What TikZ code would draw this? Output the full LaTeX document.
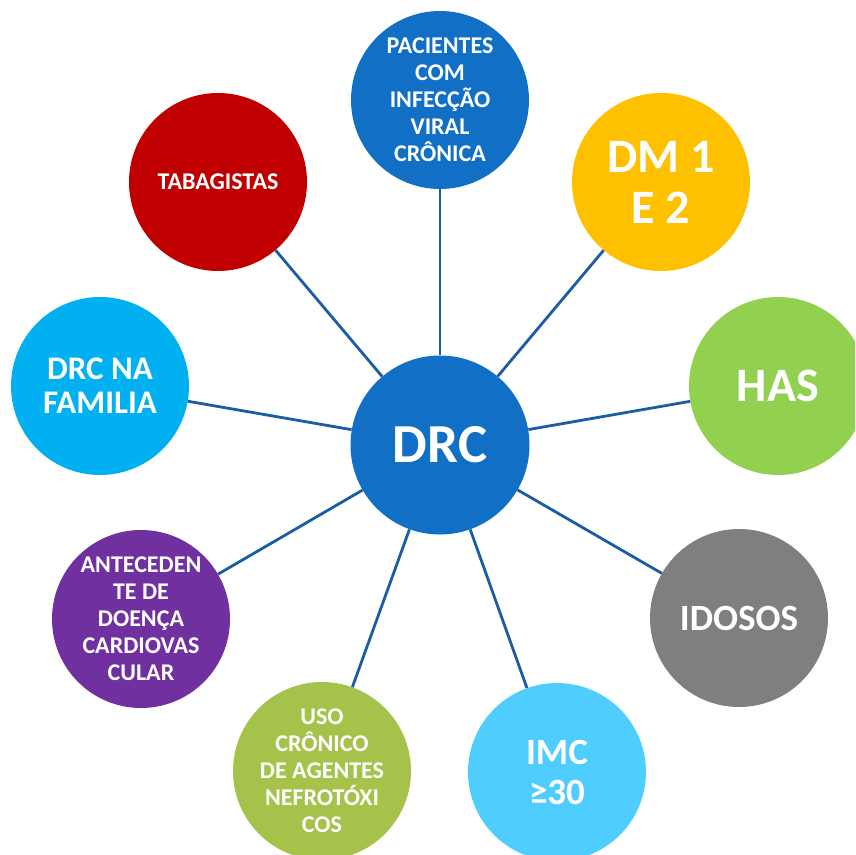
\documentclass[tikz,border=0pt]{standalone}
\usepackage{fontspec}
\setmainfont{Carlito}
\definecolor{cdrc}{HTML}{1170C6}
\definecolor{cpac}{HTML}{1170C6}
\definecolor{cdm}{HTML}{FFC000}
\definecolor{chas}{HTML}{92D050}
\definecolor{cido}{HTML}{7F7F7F}
\definecolor{cimc}{HTML}{50CDFF}
\definecolor{cuso}{HTML}{A5C34B}
\definecolor{cant}{HTML}{7030A0}
\definecolor{cfam}{HTML}{00B0F0}
\definecolor{ctab}{HTML}{C00000}
\definecolor{cline}{HTML}{1B5DA2}
\begin{document}
\begin{tikzpicture}[x=1pt,y=-1pt,
  bubble/.style={circle,minimum size=178pt,inner sep=0pt,text=white,align=center,font=\bfseries},
  fsmall/.style={font=\fontsize{24}{27}\selectfont\bfseries},
  fmid/.style={font=\fontsize{33}{34}\selectfont\bfseries},
  fbig/.style={font=\fontsize{37}{40}\selectfont\bfseries},
  fhuge/.style={font=\fontsize{48}{51}\selectfont\bfseries},
  link/.style={draw=cline,line width=2.8pt}]
\useasboundingbox (0,0) rectangle (855,855);
\begin{scope}
\clip (0,0) rectangle (855,855);
\node[bubble,fill=cdrc,minimum size=179pt,font=\fontsize{55}{58}\selectfont\bfseries] (drc) at (440,445) {DRC};
\node[bubble,fill=cpac,fsmall] (pac) at (440,100) {PACIENTES\\COM\\INFECÇÃO\\VIRAL\\CRÔNICA};
\node[bubble,fill=cdm,fhuge] (dm) at (661,182) {DM 1\\E 2};
\node[bubble,fill=chas,fhuge] (has) at (778,386) {HAS};
\node[bubble,fill=cido,fbig] (ido) at (739,618) {IDOSOS};
\node[bubble,fill=cimc,fbig] (imc) at (557,772) {IMC\\≥30};
\node[bubble,fill=cuso,fsmall] (uso) at (322,771) {USO\\CRÔNICO\\DE AGENTES\\NEFROTÓXI\\COS};
\node[bubble,fill=cant,fsmall] (ant) at (141,619) {ANTECEDEN\\TE DE\\DOENÇA\\CARDIOVAS\\CULAR};
\node[bubble,fill=cfam,fmid] (fam) at (100,386) {DRC NA\\FAMILIA};
\node[bubble,fill=ctab,fsmall] (tab) at (218,182) {TABAGISTAS};
\foreach \t in {pac,dm,has,ido,imc,uso,ant,fam,tab}
  \draw[link] (drc) -- (\t);
\end{scope}
\end{tikzpicture}
\end{document}
